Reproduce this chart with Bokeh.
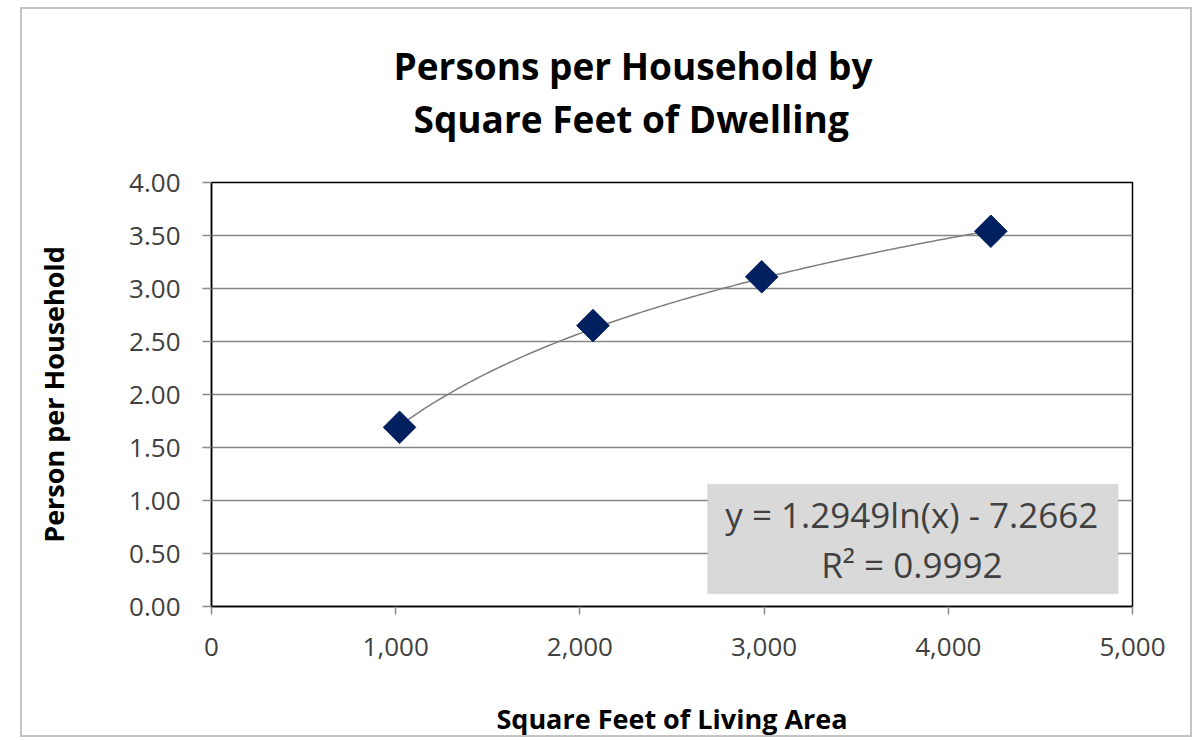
import numpy as np
from bokeh.plotting import figure
from bokeh.models import NumeralTickFormatter, BoxAnnotation, Label, FixedTicker, Range1d, Title
from bokeh.embed import file_html
from bokeh.resources import INLINE

# data
sqft = [1021, 2071, 2987, 4231]
persons = [1.69, 2.65, 3.11, 3.54]
coef_a = 1.2949
coef_b = -7.2662
r2 = 0.9992
x_ticks = [0, 1000, 2000, 3000, 4000, 5000]
y_ticks = [0.0, 0.5, 1.0, 1.5, 2.0, 2.5, 3.0, 3.5, 4.0]
title_lines = ["Persons per Household by", "Square Feet of Dwelling"]
x_label = "Square Feet of Living Area"
y_label = "Person per Household"
eq_text = f"y = {coef_a:.4f}ln(x) - {abs(coef_b):.4f}"
r2_text = f"R² = {r2:.4f}"

FONT = "Open Sans"
TXT = "#404040"

p = figure(width=1172, height=730, output_backend="svg", toolbar_location=None,
           x_range=Range1d(0, 5000), y_range=Range1d(0, 4),
           min_border_left=189, min_border_right=62, min_border_top=173, min_border_bottom=110,
           margin=(7, 0, 0, 20), styles={"border": "2px solid #c4c4c4"})

# second title line sits nearest the frame, first line stacked above it
p.add_layout(Title(text=title_lines[1], align="left", offset=202, text_font=FONT,
                   text_font_size="37px", text_font_style="bold", text_color="black",
                   vertical_align="bottom", standoff=77), "above")
p.add_layout(Title(text=title_lines[0], align="left", offset=182, text_font=FONT,
                   text_font_size="37px", text_font_style="bold", text_color="black",
                   vertical_align="bottom", standoff=-76), "above")

p.outline_line_color = "black"
p.outline_line_width = 1.5
p.background_fill_color = "white"
p.border_fill_color = "white"

p.xgrid.grid_line_color = None
p.ygrid.grid_line_color = "#868686"
p.ygrid.grid_line_width = 1.7

p.xaxis.ticker = FixedTicker(ticks=x_ticks)
p.yaxis.ticker = FixedTicker(ticks=y_ticks)
p.xaxis.formatter = NumeralTickFormatter(format="0,0")
p.yaxis.formatter = NumeralTickFormatter(format="0.00")
for ax in (p.xaxis[0], p.yaxis[0]):
    ax.axis_line_color = "black"
    ax.axis_line_width = 1.5
    ax.major_tick_line_color = "#8a8a8a"
    ax.major_tick_line_width = 1.5
    ax.major_tick_in = 0
    ax.minor_tick_line_color = None
    ax.major_label_text_font = FONT
    ax.major_label_text_font_size = "26px"
    ax.major_label_text_color = TXT
    ax.axis_label_text_font = FONT
    ax.axis_label_text_font_size = "27px"
    ax.axis_label_text_font_style = "bold"
    ax.axis_label_text_color = "black"
p.xaxis.major_tick_out = 8
p.yaxis.major_tick_out = 9
p.xaxis.major_label_standoff = 23
p.yaxis.major_label_standoff = 22
p.xaxis.axis_label = x_label
p.xaxis.axis_label_standoff = 41
p.yaxis.axis_label = y_label
p.yaxis.axis_label_standoff = 54

# trendline from the fitted coefficients
xs = np.linspace(min(sqft), max(sqft), 200)
p.line(xs, coef_a * np.log(xs) + coef_b, line_color="#7f7f7f", line_width=1.5)

p.scatter(sqft, persons, marker="square", angle=np.pi / 4, size=23,
          fill_color="#002060", line_color="#002060")

box = BoxAnnotation(left=2694, right=4921, bottom=0.123, top=1.151,
                    fill_color="#d9d9d9", fill_alpha=1.0,
                    line_color="#bfbfbf", line_width=1.5)
p.add_layout(box)
p.add_layout(Label(x=3802, y=0.868, text=eq_text, text_align="center",
                   text_baseline="middle", text_font=FONT, text_font_size="35px",
                   text_color=TXT))
p.add_layout(Label(x=3802, y=0.392, text=r2_text, text_align="center",
                   text_baseline="middle", text_font=FONT, text_font_size="35px",
                   text_color=TXT))

open("out.html", "w").write(file_html(p, INLINE))
